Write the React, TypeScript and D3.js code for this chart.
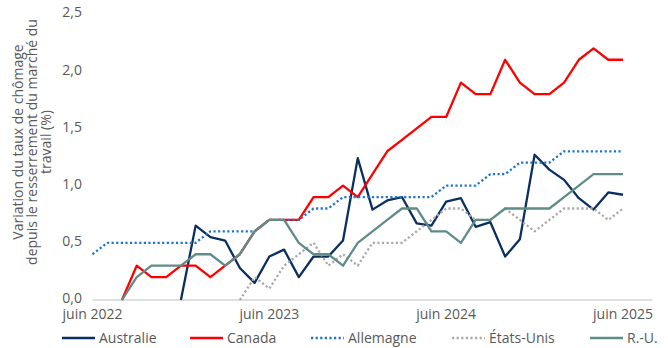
import React from 'react';
import * as d3 from 'd3';

// ---------- data ----------
const months: string[] = [
  '2022-06', '2022-07', '2022-08', '2022-09', '2022-10', '2022-11', '2022-12',
  '2023-01', '2023-02', '2023-03', '2023-04', '2023-05', '2023-06', '2023-07',
  '2023-08', '2023-09', '2023-10', '2023-11', '2023-12', '2024-01', '2024-02',
  '2024-03', '2024-04', '2024-05', '2024-06', '2024-07', '2024-08', '2024-09',
  '2024-10', '2024-11', '2024-12', '2025-01', '2025-02', '2025-03', '2025-04',
  '2025-05', '2025-06',
];
const axisEndMonth = '2025-08';

const xTickMonths = ['2022-06', '2023-06', '2024-06', '2025-06'];
const xTickLabels = ['juin 2022', 'juin 2023', 'juin 2024', 'juin 2025'];
const yTicks = [0, 0.5, 1.0, 1.5, 2.0, 2.5];

type V = number | null;
const australie: V[] = [
  null, null, null, null, null, null,
  0.0, 0.65, 0.55, 0.52, 0.28, 0.15, 0.38, 0.44, 0.2, 0.38, 0.38, 0.52, 1.24,
  0.79, 0.87, 0.9, 0.67, 0.65, 0.86, 0.89, 0.64, 0.68, 0.38, 0.53, 1.27, 1.14,
  1.05, 0.89, 0.79, 0.94, 0.92,
];
const canada: V[] = [
  null, null,
  0.0, 0.3, 0.2, 0.2, 0.3, 0.3, 0.2, 0.3, 0.4, 0.6, 0.7, 0.7, 0.7, 0.9, 0.9,
  1.0, 0.9, 1.1, 1.3, 1.4, 1.5, 1.6, 1.6, 1.9, 1.8, 1.8, 2.1, 1.9, 1.8, 1.8,
  1.9, 2.1, 2.2, 2.1, 2.1,
];
const allemagne: V[] = [
  0.4, 0.5, 0.5, 0.5, 0.5, 0.5, 0.5, 0.5, 0.6, 0.6, 0.6, 0.6, 0.7, 0.7, 0.7,
  0.8, 0.8, 0.9, 0.9, 0.9, 0.9, 0.9, 0.9, 0.9, 1.0, 1.0, 1.0, 1.1, 1.1, 1.2,
  1.2, 1.2, 1.3, 1.3, 1.3, 1.3, 1.3,
];
const etatsUnis: V[] = [
  null, null, null, null, null, null, null, null, null, null,
  0.0, 0.2, 0.1, 0.3, 0.4, 0.5, 0.3, 0.4, 0.3, 0.5, 0.5, 0.5, 0.6, 0.7, 0.8,
  0.8, 0.7, 0.7, 0.8, 0.7, 0.6, 0.7, 0.8, 0.8, 0.8, 0.7, 0.8,
];
const royaumeUni: V[] = [
  null, null,
  0.0, 0.2, 0.3, 0.3, 0.3, 0.4, 0.4, 0.3, 0.4, 0.6, 0.7, 0.7, 0.5, 0.4, 0.4,
  0.3, 0.5, 0.6, 0.7, 0.8, 0.8, 0.6, 0.6, 0.5, 0.7, 0.7, 0.8, 0.8, 0.8, 0.8,
  0.9, 1.0, 1.1, 1.1, 1.1,
];

const seriesNames = ['Australie', 'Canada', 'Allemagne', 'États-Unis', 'R.-U.'];
const seriesValues = [australie, canada, allemagne, etatsUnis, royaumeUni];

const yTitleLines = [
  'Variation du taux de chômage',
  'depuis le resserrement du marché du',
  'travail (%)',
];

// ---------- styles / layout ----------
const W = 668;
const H = 348;
const FONT = "'Open Sans', 'Noto Sans', sans-serif";
const TEXT = '#595959';
const FS = 14;
const seriesStyles = [
  { color: '#0b2f5e', width: 2.3, dash: null as string | null },
  { color: '#ff0000', width: 2.3, dash: null },
  { color: '#1f74cc', width: 2.3, dash: '2.2,2.4' },
  { color: '#a9a9a9', width: 2.3, dash: '2.2,2.4' },
  { color: '#5f8c87', width: 2.3, dash: null },
];
const legendX = [62, 190, 311, 452, 590];
const legendY = 338;
const legendLen = 33;

const monthIndex = (m: string) => {
  const [y, mo] = m.split('-').map(Number);
  const [y0, m0] = months[0].split('-').map(Number);
  return (y - y0) * 12 + (mo - m0);
};

export default function App() {
  const x = d3.scaleLinear().domain([0, monthIndex(axisEndMonth)]).range([92.5, 652.5]);
  const y = d3.scaleLinear().domain([0, 2.5]).range([300, 14]);

  const line = d3
    .line<V>()
    .defined((d) => d != null)
    .x((_, i) => x(i))
    .y((d) => y(d as number));

  const fmt = (v: number) => d3.format('.1f')(v).replace('.', ',');

  return (
    <svg
      width={W}
      height={H}
      style={{ position: 'absolute', left: 0, top: 0, background: '#fff' }}
      fontFamily={FONT}
    >
      {/* y axis labels */}
      {yTicks.map((t) => (
        <text
          key={t}
          x={82}
          y={y(t) - 1.5}
          dy="0.35em"
          textAnchor="end"
          fontSize={FS}
          fill={TEXT}
        >
          {fmt(t)}
        </text>
      ))}
      {/* y title */}
      <g transform={`translate(32, 142) rotate(-90)`}>
        {yTitleLines.map((l, i) => (
          <text
            key={i}
            x={0}
            y={(i - 1) * 13.8}
            dy="0.35em"
            textAnchor="middle"
            fontSize={FS}
            fill={TEXT}
          >
            {l}
          </text>
        ))}
      </g>
      {/* x axis line */}
      <line
        x1={x(0)}
        x2={x(monthIndex(axisEndMonth))}
        y1={y(0)}
        y2={y(0)}
        stroke="#bfbfbf"
        strokeWidth={1}
      />
      {xTickMonths.map((m, i) => (
        <text
          key={m}
          x={x(monthIndex(m))}
          y={318.5}
          textAnchor="middle"
          fontSize={FS}
          fill={TEXT}
        >
          {xTickLabels[i]}
        </text>
      ))}
      {/* series */}
      {seriesValues.map((vals, i) => (
        <path
          key={seriesNames[i]}
          d={line(vals) || ''}
          fill="none"
          stroke={seriesStyles[i].color}
          strokeWidth={seriesStyles[i].width}
          strokeDasharray={seriesStyles[i].dash || undefined}
          strokeLinejoin="round"
        />
      ))}
      {/* legend */}
      {seriesNames.map((n, i) => (
        <g key={n} transform={`translate(${legendX[i]}, ${legendY})`}>
          <line
            x1={0}
            x2={legendLen}
            y1={0}
            y2={0}
            stroke={seriesStyles[i].color}
            strokeWidth={seriesStyles[i].width}
            strokeDasharray={seriesStyles[i].dash || undefined}
          />
          <text x={legendLen + 4} y={0} dy="0.35em" fontSize={FS} fill={TEXT}>
            {n}
          </text>
        </g>
      ))}
    </svg>
  );
}
